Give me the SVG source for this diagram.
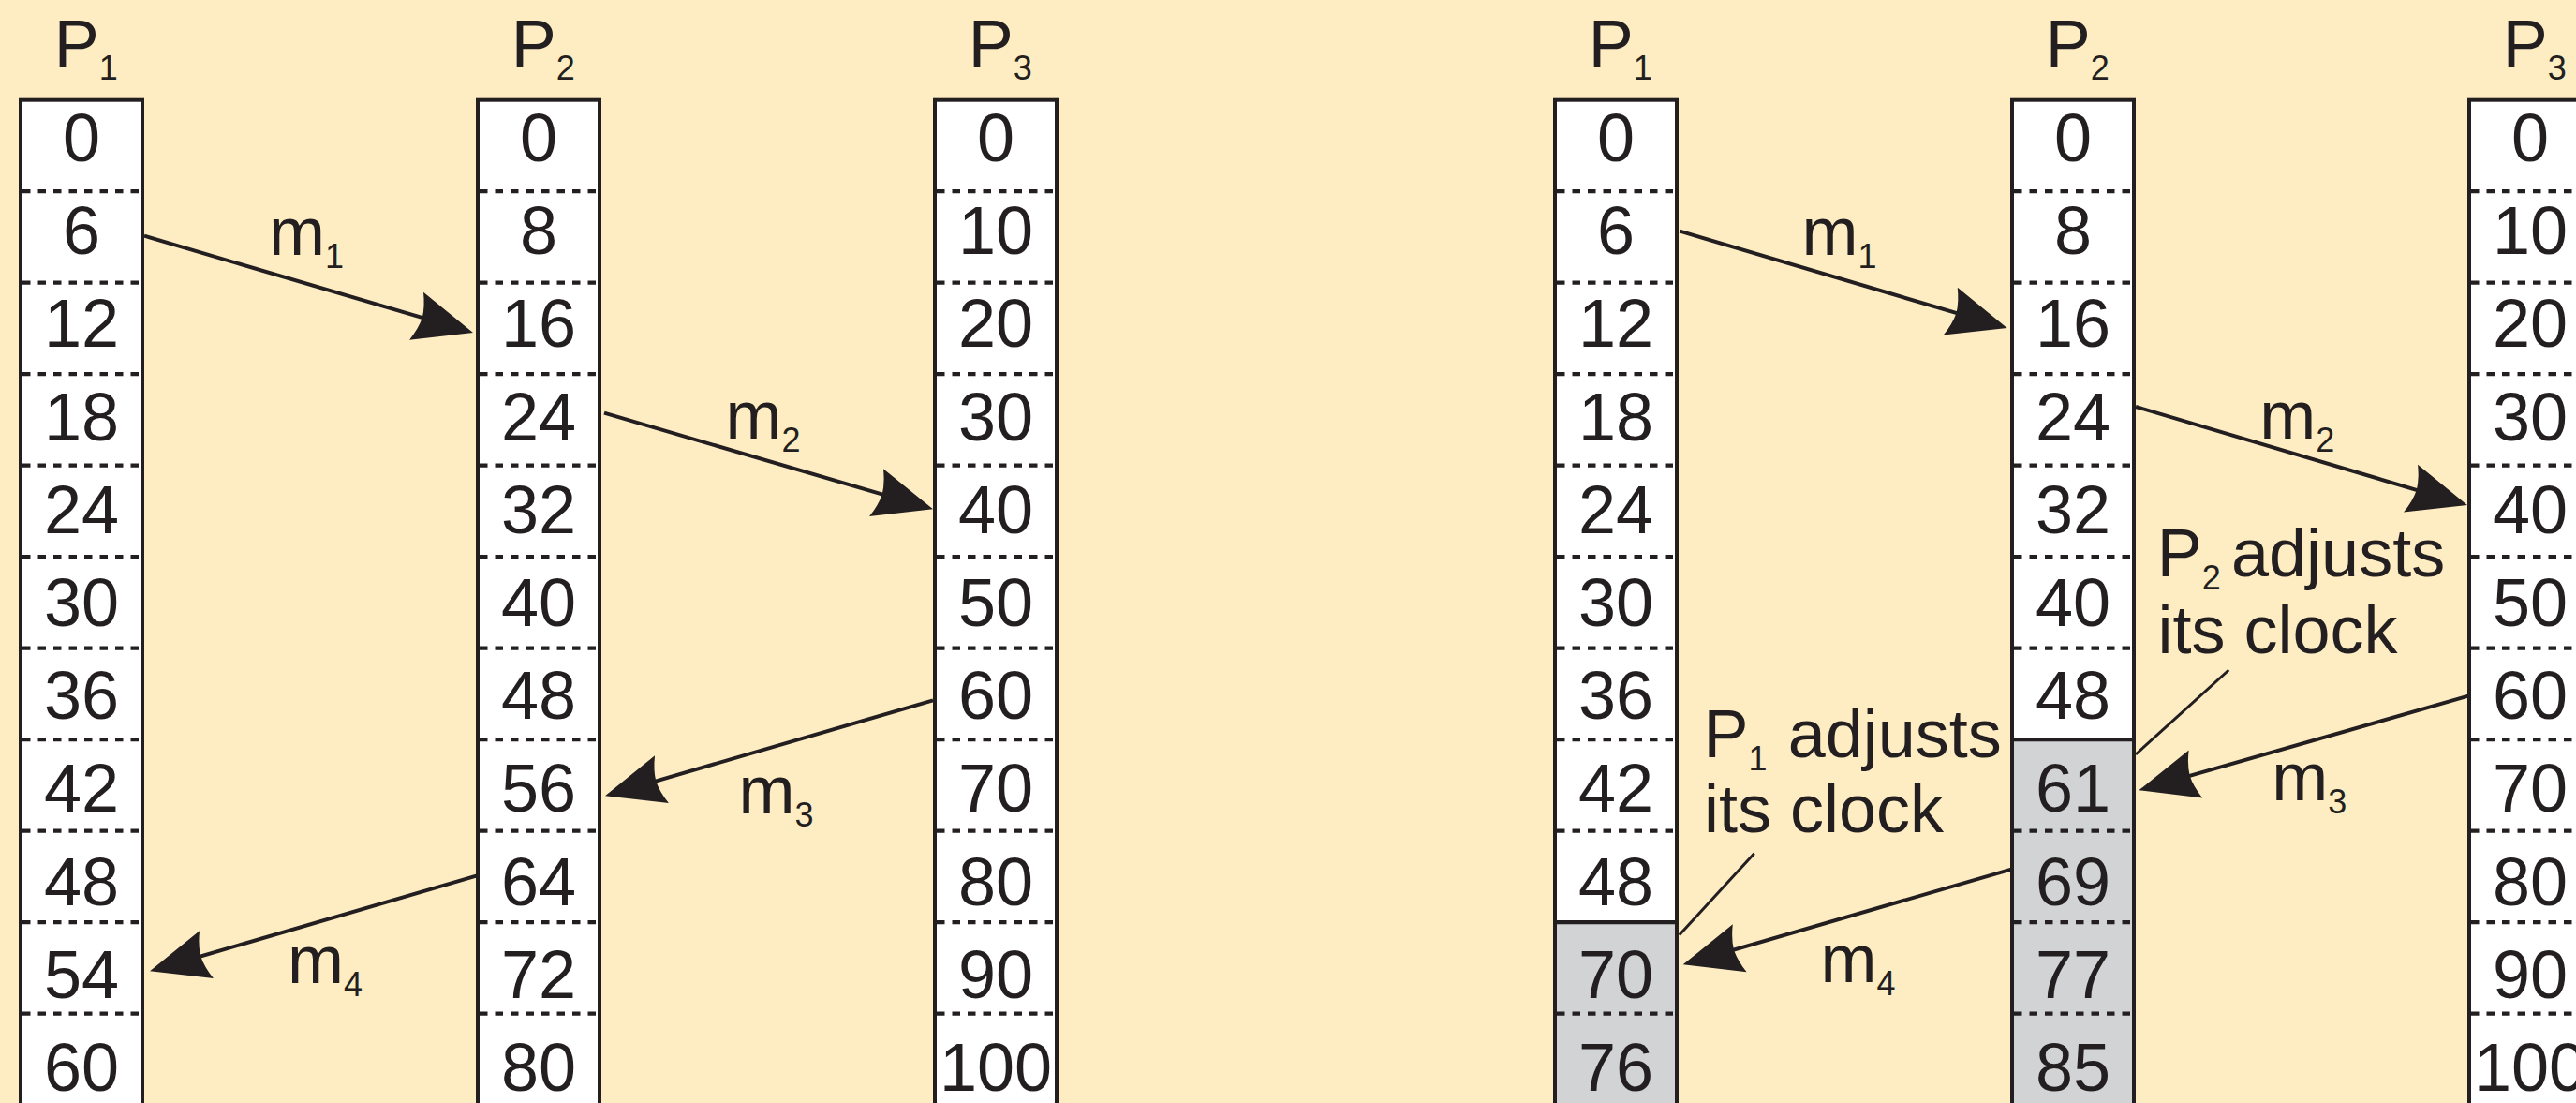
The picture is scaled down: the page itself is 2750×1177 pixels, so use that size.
<svg xmlns="http://www.w3.org/2000/svg" width="2750" height="1177" viewBox="0 0 2750 1177">
<style>
.bg{fill:#FEEDC3}
.cellbg{fill:#FFFFFF}
.gray{fill:#D1D3D4}
.outline{fill:none;stroke:#231F20;stroke-width:4}
.dash{fill:none;stroke:#231F20;stroke-width:4.3;stroke-dasharray:8.5 8}
.solid{fill:none;stroke:#231F20;stroke-width:4.3}
text{font-family:"Liberation Sans",Arial,Helvetica,sans-serif;fill:#231F20;font-size:72px}
.num{text-anchor:middle}
.sub{font-size:36px}
.msg{fill:none;stroke:#231F20;stroke-width:4;marker-end:url(#ah)}
.lead{fill:none;stroke:#231F20;stroke-width:3}
</style>
<defs>
<marker id="ah" markerUnits="userSpaceOnUse" orient="auto" refX="0" refY="0" markerWidth="200" markerHeight="200" viewBox="-100 -100 200 200" overflow="visible">
<path d="M40,0 L-23,-26.5 Q-17,-12 -16.5,0 Q-17,12 -23,26.5 Z" fill="#231F20"/>
</marker>
</defs>
<rect class="bg" x="0" y="0" width="2750" height="1177"/>

<!-- LEFT HALF -->
<g id="left-P1">
<text x="57.8" y="72">P<tspan class="sub" dy="12.5">1</tspan></text>
<rect class="cellbg" x="22" y="106.7" width="130" height="1100"/>
<path class="dash" d="M24 204.2h126M24 301.7h126M24 399.2h126M24 496.7h126M24 594.2h126M24 691.7h126M24 789.2h126M24 886.7h126M24 984.2h126M24 1081.7h126"/>
<rect class="outline" x="22" y="106.7" width="130" height="1100"/>
<text class="num" x="87" y="172">0</text>
<text class="num" x="87" y="271.2">6</text>
<text class="num" x="87" y="370.4">12</text>
<text class="num" x="87" y="469.6">18</text>
<text class="num" x="87" y="568.8">24</text>
<text class="num" x="87" y="668">30</text>
<text class="num" x="87" y="767.2">36</text>
<text class="num" x="87" y="866.4">42</text>
<text class="num" x="87" y="965.6">48</text>
<text class="num" x="87" y="1064.8">54</text>
<text class="num" x="87" y="1164">60</text>
</g>

<g id="left-P2">
<text x="545.8" y="72">P<tspan class="sub" dy="12.5">2</tspan></text>
<rect class="cellbg" x="510" y="106.7" width="130" height="1100"/>
<path class="dash" d="M512 204.2h126M512 301.7h126M512 399.2h126M512 496.7h126M512 594.2h126M512 691.7h126M512 789.2h126M512 886.7h126M512 984.2h126M512 1081.7h126"/>
<rect class="outline" x="510" y="106.7" width="130" height="1100"/>
<text class="num" x="575" y="172">0</text>
<text class="num" x="575" y="271.2">8</text>
<text class="num" x="575" y="370.4">16</text>
<text class="num" x="575" y="469.6">24</text>
<text class="num" x="575" y="568.8">32</text>
<text class="num" x="575" y="668">40</text>
<text class="num" x="575" y="767.2">48</text>
<text class="num" x="575" y="866.4">56</text>
<text class="num" x="575" y="965.6">64</text>
<text class="num" x="575" y="1064.8">72</text>
<text class="num" x="575" y="1164">80</text>
</g>

<g id="left-P3">
<text x="1033.8" y="72">P<tspan class="sub" dy="12.5">3</tspan></text>
<rect class="cellbg" x="998" y="106.7" width="130" height="1100"/>
<path class="dash" d="M1000 204.2h126M1000 301.7h126M1000 399.2h126M1000 496.7h126M1000 594.2h126M1000 691.7h126M1000 789.2h126M1000 886.7h126M1000 984.2h126M1000 1081.7h126"/>
<rect class="outline" x="998" y="106.7" width="130" height="1100"/>
<text class="num" x="1063" y="172">0</text>
<text class="num" x="1063" y="271.2">10</text>
<text class="num" x="1063" y="370.4">20</text>
<text class="num" x="1063" y="469.6">30</text>
<text class="num" x="1063" y="568.8">40</text>
<text class="num" x="1063" y="668">50</text>
<text class="num" x="1063" y="767.2">60</text>
<text class="num" x="1063" y="866.4">70</text>
<text class="num" x="1063" y="965.6">80</text>
<text class="num" x="1063" y="1064.8">90</text>
<text class="num" x="1063" y="1164">100</text>
</g>

<!-- RIGHT HALF -->
<g id="right-P1">
<text x="1695.8" y="72">P<tspan class="sub" dy="12.5">1</tspan></text>
<rect class="cellbg" x="1660" y="106.7" width="130" height="1100"/>
<rect class="gray" x="1660" y="984.2" width="130" height="300"/>
<path class="dash" d="M1662 204.2h126M1662 301.7h126M1662 399.2h126M1662 496.7h126M1662 594.2h126M1662 691.7h126M1662 789.2h126M1662 886.7h126M1662 1081.7h126"/>
<path class="solid" d="M1662 984.2h126"/>
<rect class="outline" x="1660" y="106.7" width="130" height="1100"/>
<text class="num" x="1725" y="172">0</text>
<text class="num" x="1725" y="271.2">6</text>
<text class="num" x="1725" y="370.4">12</text>
<text class="num" x="1725" y="469.6">18</text>
<text class="num" x="1725" y="568.8">24</text>
<text class="num" x="1725" y="668">30</text>
<text class="num" x="1725" y="767.2">36</text>
<text class="num" x="1725" y="866.4">42</text>
<text class="num" x="1725" y="965.6">48</text>
<text class="num" x="1725" y="1064.8">70</text>
<text class="num" x="1725" y="1164">76</text>
</g>

<g id="right-P2">
<text x="2183.8" y="72">P<tspan class="sub" dy="12.5">2</tspan></text>
<rect class="cellbg" x="2148" y="106.7" width="130" height="1100"/>
<rect class="gray" x="2148" y="789.2" width="130" height="500"/>
<path class="dash" d="M2150 204.2h126M2150 301.7h126M2150 399.2h126M2150 496.7h126M2150 594.2h126M2150 691.7h126M2150 886.7h126M2150 984.2h126M2150 1081.7h126"/>
<path class="solid" d="M2150 789.2h126"/>
<rect class="outline" x="2148" y="106.7" width="130" height="1100"/>
<text class="num" x="2213" y="172">0</text>
<text class="num" x="2213" y="271.2">8</text>
<text class="num" x="2213" y="370.4">16</text>
<text class="num" x="2213" y="469.6">24</text>
<text class="num" x="2213" y="568.8">32</text>
<text class="num" x="2213" y="668">40</text>
<text class="num" x="2213" y="767.2">48</text>
<text class="num" x="2213" y="866.4">61</text>
<text class="num" x="2213" y="965.6">69</text>
<text class="num" x="2213" y="1064.8">77</text>
<text class="num" x="2213" y="1164">85</text>
</g>

<g id="right-P3">
<text x="2671.8" y="72">P<tspan class="sub" dy="12.5">3</tspan></text>
<rect class="cellbg" x="2636" y="106.7" width="130" height="1100"/>
<path class="dash" d="M2638 204.2h126M2638 301.7h126M2638 399.2h126M2638 496.7h126M2638 594.2h126M2638 691.7h126M2638 789.2h126M2638 886.7h126M2638 984.2h126M2638 1081.7h126"/>
<rect class="outline" x="2636" y="106.7" width="130" height="1100"/>
<text class="num" x="2701" y="172">0</text>
<text class="num" x="2701" y="271.2">10</text>
<text class="num" x="2701" y="370.4">20</text>
<text class="num" x="2701" y="469.6">30</text>
<text class="num" x="2701" y="568.8">40</text>
<text class="num" x="2701" y="668">50</text>
<text class="num" x="2701" y="767.2">60</text>
<text class="num" x="2701" y="866.4">70</text>
<text class="num" x="2701" y="965.6">80</text>
<text class="num" x="2701" y="1064.8">90</text>
<text class="num" x="2701" y="1164">100</text>
</g>

<!-- CONNECTORS -->
<g id="connectors">
<path class="msg" d="M154 251.7L466.6 343.7"/>
<path class="msg" d="M645 440.7L957.6 532.1"/>
<path class="msg" d="M996 747.3L684.4 838.1"/>
<path class="msg" d="M509.3 934.3L198.4 1025.1"/>
<path class="msg" d="M1793.3 246.7L2104.3 338.7"/>
<path class="msg" d="M2280 434L2595.6 527.6"/>
<path class="msg" d="M2635 742.7L2321.8 832.3"/>
<path class="msg" d="M2148 927.3L1835.1 1018.2"/>
<path class="lead" d="M1872.7 910.7L1792.7 997.7"/>
<path class="lead" d="M2379.3 715L2280 805"/>
</g>

<g id="message-labels">
<text x="287" y="271.7">m<tspan class="sub" dy="14">1</tspan></text>
<text x="774.6" y="468.3">m<tspan class="sub" dy="14">2</tspan></text>
<text x="788.6" y="868">m<tspan class="sub" dy="14">3</tspan></text>
<text x="307" y="1048.7">m<tspan class="sub" dy="14">4</tspan></text>
<text x="1923.6" y="271.7">m<tspan class="sub" dy="14">1</tspan></text>
<text x="2412.3" y="468">m<tspan class="sub" dy="14">2</tspan></text>
<text x="2425.3" y="854">m<tspan class="sub" dy="14">3</tspan></text>
<text x="1943.6" y="1048.3">m<tspan class="sub" dy="14">4</tspan></text>
</g>

<g id="note-P1">
<text x="1818.5" y="808.3">P<tspan class="sub" dy="13.4">1</tspan><tspan x="1908.7" dy="-13.4">adjusts</tspan></text>
<text x="1819" y="888.3">its clock</text>
</g>
<g id="note-P2">
<text x="2302.8" y="615">P<tspan class="sub" dy="14.3">2</tspan><tspan x="2382" dy="-14.3">adjusts</tspan></text>
<text x="2303.5" y="696.7">its clock</text>
</g>
</svg>
